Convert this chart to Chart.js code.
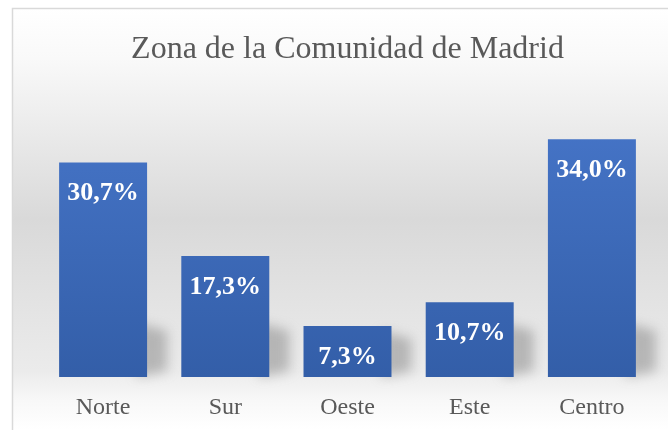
<!DOCTYPE html>
<html>
<head>
<meta charset="utf-8">
<script src="https://cdn.jsdelivr.net/npm/chart.js@4/dist/chart.umd.min.js"></script>
<style>
  html, body { margin: 0; padding: 0; background: #ffffff; }
  #wrap { width: 668px; height: 430px; position: relative; }
</style>
</head>
<body>
<div id="wrap"><canvas id="c" width="668" height="430"></canvas></div>
<script>
const titleText = "Zona de la Comunidad de Madrid";
const categories = ["Norte", "Sur", "Oeste", "Este", "Centro"];
const values = [30.7, 17.3, 7.3, 10.7, 34.0];
const valueLabels = ["30,7%", "17,3%", "7,3%", "10,7%", "34,0%"];

const serif = "'Liberation Serif', 'Times New Roman', serif";

const bgPlugin = {
  id: 'bg',
  beforeDraw(chart) {
    const ctx = chart.ctx;
    const x0 = 12, y0 = 8, W = chart.width, H = chart.height;
    ctx.save();
    const g = ctx.createLinearGradient(0, y0, 0, H);
    g.addColorStop(0, '#ffffff');
    g.addColorStop(0.12, '#f9f9f9');
    g.addColorStop(0.5, '#d9d9d9');
    g.addColorStop(0.86, '#ebebeb');
    g.addColorStop(0.93, '#f8f8f8');
    g.addColorStop(1, '#ffffff');
    ctx.fillStyle = g;
    ctx.fillRect(x0, y0, W - x0, H - y0);
    ctx.strokeStyle = '#d9d9d9';
    ctx.lineWidth = 1.5;
    ctx.beginPath();
    ctx.moveTo(x0 + 0.5, H);
    ctx.lineTo(x0 + 0.5, y0 + 0.5);
    ctx.lineTo(W, y0 + 0.5);
    ctx.stroke();
    ctx.restore();
  }
};

const shadowPlugin = {
  id: 'barShadow',
  beforeDatasetsDraw(chart) {
    const ctx = chart.ctx;
    const meta = chart.getDatasetMeta(0);
    ctx.save();
    meta.data.forEach((bar) => {
      const right = bar.x + bar.width / 2;
      const bottom = bar.base;
      const h = Math.min(bar.base - bar.y, 60);
      ctx.save();
      ctx.filter = 'blur(6px)';
      ctx.fillStyle = 'rgba(120,120,120,0.45)';
      ctx.beginPath();
      ctx.moveTo(right - 10, bottom);
      ctx.lineTo(right - 10, bottom - h * 0.9);
      ctx.lineTo(right + 20, bottom - h * 0.9 + 8);
      ctx.lineTo(right + 20, bottom - 6);
      ctx.closePath();
      ctx.fill();
      ctx.restore();
    });
    ctx.restore();
  }
};

const labelPlugin = {
  id: 'valueLabels',
  afterDatasetsDraw(chart) {
    const ctx = chart.ctx;
    const meta = chart.getDatasetMeta(0);
    ctx.save();
    ctx.fillStyle = '#ffffff';
    ctx.font = "bold 26px " + serif;
    ctx.textAlign = 'center';
    ctx.textBaseline = 'middle';
    meta.data.forEach((bar, i) => {
      ctx.fillText(valueLabels[i], bar.x, bar.y + 31);
    });
    ctx.restore();
  }
};

const ctx = document.getElementById('c').getContext('2d');
new Chart(ctx, {
  type: 'bar',
  data: {
    labels: categories,
    datasets: [{
      data: values,
      backgroundColor: (c) => {
        const area = c.chart.chartArea;
        if (!area) return '#4472c4';
        const g = c.chart.ctx.createLinearGradient(0, area.top, 0, area.bottom);
        g.addColorStop(0, '#4675c8');
        g.addColorStop(1, '#335ea8');
        return g;
      },
      borderWidth: 0,
      barPercentage: 0.72,
      categoryPercentage: 1.0
    }]
  },
  options: {
    responsive: false,
    animation: false,
    devicePixelRatio: 1,
    layout: { padding: { left: 42, right: 15, top: 30, bottom: 0 } },
    plugins: {
      legend: { display: false },
      tooltip: { enabled: false },
      title: {
        display: true,
        text: titleText,
        color: '#595959',
        font: { family: serif, size: 32, weight: 'normal' },
        padding: { top: 0, bottom: 43 }
      }
    },
    scales: {
      x: {
        grid: { display: false, drawTicks: false },
        border: { display: false },
        ticks: {
          color: '#595959',
          font: { family: serif, size: 24 },
          padding: 16
        },
        afterFit(scale) { scale.height = 53; }
      },
      y: {
        display: false,
        min: 0,
        max: 38
      }
    }
  },
  plugins: [bgPlugin, shadowPlugin, labelPlugin]
});
</script>
</body>
</html>
